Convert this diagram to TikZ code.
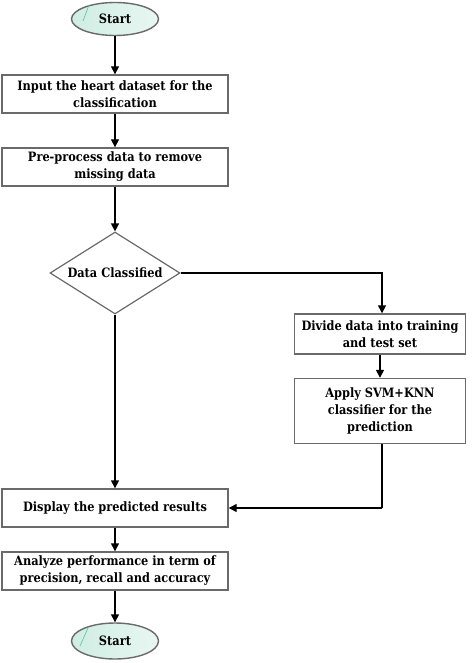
\documentclass[tikz,border=0pt]{standalone}
\usepackage{fontspec}
\setmainfont[FakeStretch=0.88]{DejaVu Serif}
\usetikzlibrary{shapes.geometric,arrows.meta}
\definecolor{boxgray}{HTML}{6A6A6A}
\definecolor{mint}{HTML}{CFEDE3}
\definecolor{mintlight}{HTML}{E8F7F1}
\definecolor{stripe}{HTML}{5CC2A4}
\begin{document}
\begin{tikzpicture}[x=1pt,y=-1pt,
  every node/.style={font=\bfseries\fontsize{12.9}{17}\selectfont, align=center, inner sep=0pt},
  procbox/.style={draw=boxgray, line width=1.4pt, fill=white},
  term/.style={ellipse, draw=boxgray, line width=1.4pt, left color=mint, right color=mintlight, minimum width=87pt, minimum height=33pt},
  decision/.style={diamond, draw=boxgray, line width=1.2pt, fill=white, aspect=1.6, minimum width=130pt, minimum height=82pt},
  flow/.style={line width=1.4pt, -{Triangle[length=8pt,width=8pt]}},
  plainline/.style={line width=1.4pt}]
\useasboundingbox (0,0) rectangle (474,663);
% terminals
\node[term] (start) at (115,19) {Start};
\draw[stripe, line width=0.6pt] (89,5) -- (83,21);
% process boxes
\node[procbox, minimum width=226pt, minimum height=38pt] (input) at (115,94) {Input the heart dataset for the\\classification};
\node[procbox, minimum width=226pt, minimum height=38pt] (pre) at (115,167) {Pre-process data to remove\\missing data};
\node[decision] (dec) at (115,273) {Data Classified};
\node[procbox, minimum width=171pt, minimum height=40pt] (divide) at (380,334) {Divide data into training\\and test set};
\node[procbox, minimum width=171pt, minimum height=65pt] (apply) at (380,411) {Apply SVM+KNN\\classifier for the\\prediction};
\node[procbox, minimum width=226pt, minimum height=38pt] (disp) at (115,508) {Display the predicted results};
\node[procbox, minimum width=226pt, minimum height=38pt] (ana) at (115,571) {Analyze performance in term of\\precision, recall and accuracy};
\node[term, minimum height=36pt] (stop) at (115,641) {Start};
\draw[stripe, line width=0.6pt] (88,628) -- (80,646);
% connectors
\draw[flow] (start) -- (input);
\draw[flow] (input) -- (pre);
\draw[flow] (pre) -- (dec.north);
\draw[flow] (dec.east) -| (382,0 |- divide.north);
\draw[flow] (divide) -- (apply);
\coordinate (corner) at (382,508);
\draw[plainline] (apply.south -| corner) -- (corner);
\draw[flow] (corner) -- (disp.east);
\draw[flow] (dec.south) -- (dec.south |- disp.north);
\draw[flow] (disp) -- (ana);
\draw[flow] (ana) -- (stop);
\end{tikzpicture}
\end{document}
